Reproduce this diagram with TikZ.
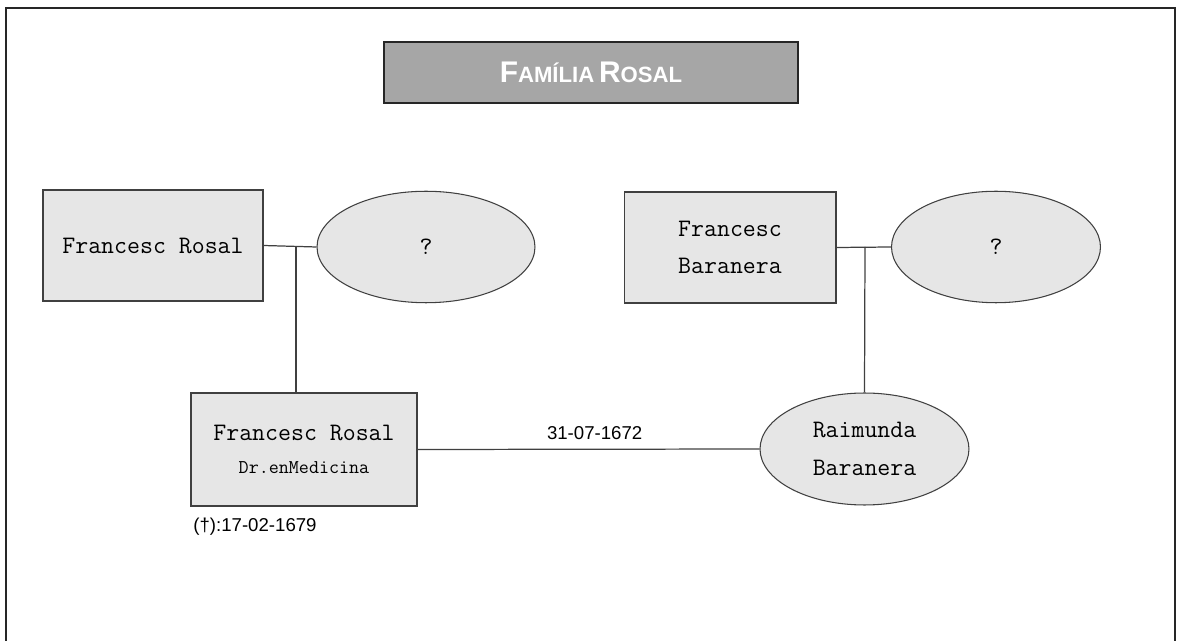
\documentclass[tikz,border=0pt]{standalone}
\usepackage{fontspec}
\usepackage{xcolor}
\usetikzlibrary{shapes.geometric,positioning}
\newfontfamily\sansfam{Liberation Sans}
\definecolor{boxgray}{HTML}{E6E6E6}
\definecolor{titlegray}{HTML}{A6A6A6}
\definecolor{edgegray}{HTML}{404040}
\newcommand{\titlecapbig}[1]{{\fontsize{17}{20}\selectfont #1}}
\newcommand{\titlecapsmall}[1]{{\fontsize{12.6}{15}\selectfont #1}}

\begin{document}
\begin{tikzpicture}[x=0.02cm,y=-0.02cm,
    personbox/.style={draw=edgegray, line width=0.6pt, fill=boxgray, rectangle, inner sep=0pt,
        minimum width=4.4cm, minimum height=2.22cm, align=center,
        font=\ttfamily\fontsize{14.3}{21.5}\selectfont},
    personoval/.style={draw=edgegray, line width=0.6pt, fill=boxgray, ellipse, inner sep=0pt,
        minimum width=4.2cm, minimum height=2.23cm, align=center,
        font=\ttfamily\fontsize{14.3}{21.5}\selectfont},
    link/.style={draw=edgegray, line width=0.7pt},
    datelabel/.style={font=\sansfam\fontsize{10.6}{12}\selectfont, inner sep=0pt}]
    \useasboundingbox (0,0) rectangle (1177,641);

    \draw[black!85, line width=1.1pt] (6,641) -- (6,8) -- (1175,8) -- (1175,641);

    \node[draw=black!85, line width=1.1pt, fill=titlegray, minimum width=8.28cm, minimum height=1.22cm,
        text=white, font=\sansfam\bfseries] (titol) at (591,72.5)
        {\titlecapbig{F}\titlecapsmall{AMÍLIA} \titlecapbig{R}\titlecapsmall{OSAL}};

    \node[personbox] (fr1) at (153,245.5) {Francesc Rosal};
    \node[personoval, minimum width=4.36cm] (mare1) at (426,247) {?};
    \node[personbox, minimum width=4.24cm] (fb) at (730,247.5) {Francesc\\Baranera};
    \node[personoval, minimum width=4.18cm] (mare2) at (996,247) {?};

    \node[personbox, minimum width=4.52cm, minimum height=2.26cm] (fr2) at (304,449.5)
        {Francesc Rosal\\[-3pt]{\fontsize{11.1}{12}\selectfont Dr.enMedicina}};
    \node[personoval, minimum width=4.18cm, minimum height=2.24cm] (rb) at (864.5,449)
        {Raimunda\\Baranera};

    \coordinate (jn1) at (296,246);
    \coordinate (jn2) at (865,247);

    \draw[link] (fr1.east) -- (mare1.west);
    \draw[link] (jn1) -- (jn1 |- fr2.north);
    \draw[link] (fb.east) -- (mare2.west);
    \draw[link] (jn2) -- (rb.north);
    \draw[link] (fr2.east) -- node[datelabel, above=5pt, xshift=3.5pt] (casament) {31-07-1672} (rb.west);

    \node[datelabel] (obit) at (255,527) {(†):17-02-1679};
\end{tikzpicture}
\end{document}
